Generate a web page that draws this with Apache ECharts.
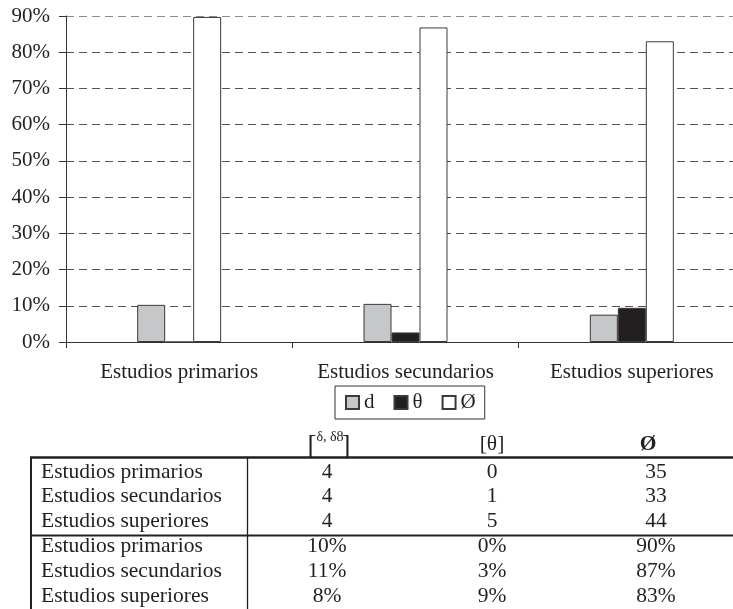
<!DOCTYPE html>
<html>
<head>
<meta charset="utf-8">
<title>Estudios</title>
<script src="https://cdn.jsdelivr.net/npm/echarts@6/dist/echarts.min.js"></script>
<style>
  html, body { margin: 0; padding: 0; background: #fff; }
  #chart { width: 733px; height: 609px; }
</style>
</head>
<body>
<div id="chart"></div>
<script>
// Education levels and the counts per answer group
const categories = ['Estudios primarios', 'Estudios secundarios', 'Estudios superiores'];
const countsD = [4, 4, 4];
const countsTheta = [0, 1, 5];
const countsO = [35, 33, 44];
const yTicks = [0, 10, 20, 30, 40, 50, 60, 70, 80, 90];
const legendNames = ['d', 'θ', 'Ø'];

// Share of each group within its education level (percent)
const totals = categories.map((_, i) => countsD[i] + countsTheta[i] + countsO[i]);
const shareD = countsD.map((v, i) => v / totals[i] * 100);
const shareTheta = countsTheta.map((v, i) => v / totals[i] * 100);
const shareO = countsO.map((v, i) => v / totals[i] * 100);

const FONT = '"Liberation Serif", "Times New Roman", serif';
const INK = '#231f20';
const TABLE_FONT = '21.5px ' + FONT;

// ---- table below the chart ----
const colX = [327, 492, 656];
const rowY = [472, 496.5, 521, 546, 571, 596];
const labelX = 41;
const graphics = [];

function txt(x, y, text, opts) {
  graphics.push({
    type: 'text', x: x, y: y,
    style: Object.assign({
      text: text, fill: INK, font: TABLE_FONT,
      align: 'center', verticalAlign: 'middle'
    }, opts || {})
  });
}
function line(x1, y1, x2, y2, w) {
  graphics.push({
    type: 'line',
    shape: { x1: x1, y1: y1, x2: x2, y2: y2 },
    style: { stroke: INK, lineWidth: w }
  });
}

// header row
txt(312, 447, '[', { font: '27px ' + FONT });
txt(330, 437, 'δ, δ8', { font: '14px ' + FONT });
txt(346, 447, ']', { font: '27px ' + FONT });
txt(492, 444, '[θ]');
txt(648, 444, 'Ø', { font: 'bold 21.5px ' + FONT });

// counts block
const countCols = [countsD, countsTheta, countsO];
categories.forEach((c, i) => {
  txt(labelX, rowY[i], c, { align: 'left' });
  countCols.forEach((col, j) => txt(colX[j], rowY[i], String(col[i])));
});
// percentage block
const shareCols = [shareD, shareTheta, shareO];
categories.forEach((c, i) => {
  txt(labelX, rowY[i + 3], c, { align: 'left' });
  shareCols.forEach((col, j) => txt(colX[j], rowY[i + 3], Math.round(col[i]) + '%'));
});

line(30, 457.5, 733, 457.5, 2.5);
line(30, 535.5, 733, 535.5, 2.2);
line(31, 457, 31, 609, 2);
line(247.5, 458, 247.5, 609, 1.3);

// ---- bar chart ----
const chart = echarts.init(document.getElementById('chart'), null, { renderer: 'canvas' });
const barBase = { type: 'bar', barWidth: 28, barGap: '0%', animation: false };
const gridColors = yTicks.map((t, i) => i === yTicks.length - 1 ? '#8c8c8c' : '#555');

chart.setOption({
  backgroundColor: '#fff',
  animation: false,
  textStyle: { fontFamily: FONT },
  grid: { left: 66, right: -12, top: 16, bottom: 267, containLabel: false, outerBoundsMode: 'none' },
  legend: {
    left: 335, top: 386,
    padding: [6, 9, 6, 10],
    itemWidth: 13, itemHeight: 13, itemGap: 19,
    borderColor: '#333', borderWidth: 1,
    icon: 'rect',
    textStyle: { fontFamily: FONT, fontSize: 21, color: INK },
    data: legendNames
  },
  xAxis: {
    type: 'category',
    data: categories,
    boundaryGap: true,
    axisLine: { lineStyle: { color: '#333', width: 1 } },
    axisTick: { show: true, length: 6, lineStyle: { color: '#333' } },
    axisLabel: { fontFamily: FONT, fontSize: 21, color: INK, margin: 20, interval: 0 },
    splitLine: { show: false }
  },
  yAxis: {
    type: 'value',
    min: 0, max: 90, interval: 10,
    axisLine: { show: true, lineStyle: { color: '#333', width: 1 } },
    axisTick: { show: true, length: 7, lineStyle: { color: '#333' } },
    axisLabel: { fontFamily: FONT, fontSize: 21, color: INK, margin: 16, formatter: '{value}%' },
    splitLine: { show: true, lineStyle: { color: gridColors, type: [8, 5], width: 1 } }
  },
  series: [
    Object.assign({}, barBase, {
      name: legendNames[0], data: shareD,
      itemStyle: { color: '#c6c7c9', borderColor: '#3a3a3a', borderWidth: 1 }
    }),
    Object.assign({}, barBase, {
      name: legendNames[1], data: shareTheta,
      itemStyle: { color: INK, borderColor: '#3a3a3a', borderWidth: 1 }
    }),
    Object.assign({}, barBase, {
      name: legendNames[2], data: shareO,
      itemStyle: { color: '#ffffff', borderColor: '#3a3a3a', borderWidth: 1 }
    })
  ],
  graphic: graphics
});
</script>
</body>
</html>
